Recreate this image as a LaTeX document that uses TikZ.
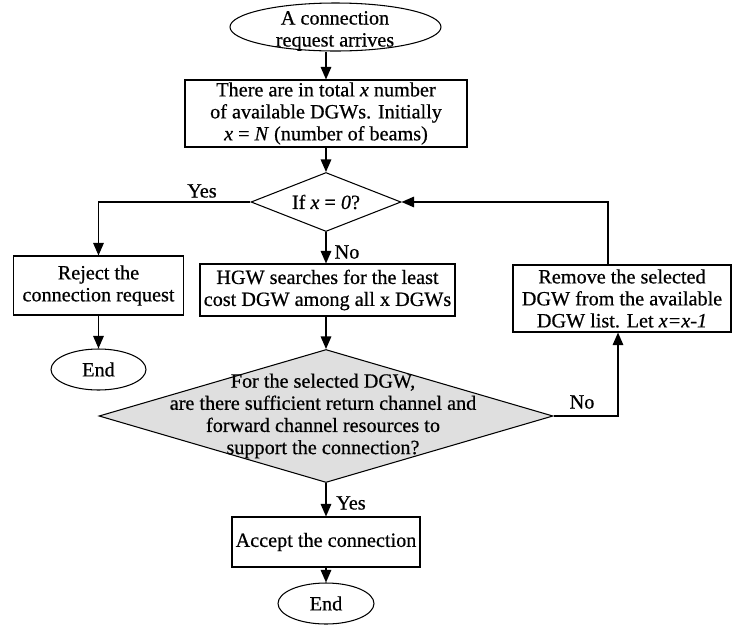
\documentclass[tikz,border=0pt]{standalone}
\usepackage{fontspec}
\setmainfont{Liberation Serif}[FakeBold=0.6]
\usetikzlibrary{shapes.geometric,arrows.meta}

\begin{document}
\begin{tikzpicture}[
        font=\fontsize{11.5}{12.5}\selectfont,
        >={Triangle[length=2.5mm,width=2.1mm]},
        flow/.style={->, line width=0.8pt},
        box/.style={draw, line width=0.6pt, align=center, inner sep=0pt},
        terminal/.style={draw, ellipse, line width=0.6pt, inner sep=0pt},
        decision/.style={draw, diamond, line width=0.6pt, inner sep=0pt}
    ]
        \useasboundingbox (0,0) rectangle (14.98,-12.52);

        % Start and set-up
        \node[terminal, minimum width=4.22cm, minimum height=0.96cm] (start) at (6.71,-0.54) {};
        \node[align=center] (starttext) at (6.70,-0.62) {A connection\\request arrives};
        \node[box, minimum width=5.64cm, minimum height=1.34cm] (total) at (6.52,-2.27)
            {There are in total \textit{x} number\\of available DGWs. Initially\\\textit{x} = \textit{N} (number of beams)};
        \node[decision, aspect=2.54, minimum width=3cm, minimum height=1.18cm] (check) at (6.52,-4.04)
            {If \textit{x} = \textit{0}?};

        % Second row
        \node[box, minimum width=3.4cm, minimum height=1.18cm] (reject) at (1.97,-5.71)
            {Reject the\\connection request};
        \node[box, minimum width=5.1cm, minimum height=1.04cm] (hgw) at (6.55,-5.80)
            {HGW searches for the least\\cost DGW among all x DGWs};
        \node[box, minimum width=4.36cm, minimum height=1.34cm] (remove) at (12.44,-5.97)
            {Remove the selected\\DGW from the available\\DGW list. Let \textit{x=x-1}};
        \node[terminal, minimum width=1.9cm, minimum height=0.82cm] (endl) at (1.97,-7.39) {End};

        % Resource check
        \node[decision, fill=gray!25, minimum width=9.08cm, minimum height=2.66cm] (big) at (6.52,-8.32) {};
        \node[align=center, font=\fontsize{11.5}{12.6}\selectfont] (bigtext) at (6.46,-8.32)
            {For the selected DGW,\\are there sufficient return channel and\\forward channel resources to\\support the connection?};

        % Accept
        \node[box, minimum width=3.76cm, minimum height=1cm] (accept) at (6.52,-10.84) {Accept the connection};
        \node[terminal, minimum width=1.92cm, minimum height=0.82cm] (endb) at (6.52,-12.07) {End};

        % Connectors
        \draw[flow] (total.north |- start.south) -- (total.north);
        \draw[flow] (total) -- (check);
        \draw[flow] (check.west) -| (reject.north);
        \draw[flow] (check.south) -- (check.south |- hgw.north);
        \draw[flow] (reject) -- (endl);
        \draw[flow] (hgw.south -| big.north) -- (big.north);
        \draw[flow] (big.east) -| ([xshift=-0.8mm]remove.south);
        \draw[flow] ([xshift=-2.8mm]remove.north) |- (check.east);
        \draw[flow] (big) -- (accept);
        \draw[flow] (accept) -- (endb);

        % Labels
        \node (yesleft) at (4.04,-3.82) {Yes};
        \node (nodown) at (6.94,-5.04) {No};
        \node (noright) at (11.64,-8.04) {No};
        \node (yesdown) at (7.02,-10.06) {Yes};

    \end{tikzpicture}
\end{document}
